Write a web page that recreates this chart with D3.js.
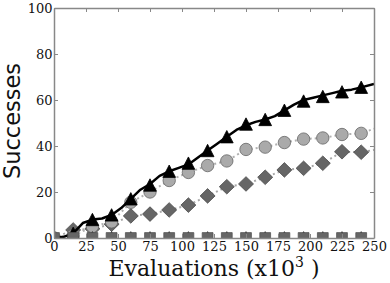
<!DOCTYPE html>
<html>
<head>
<meta charset="utf-8">
<script src="https://cdn.jsdelivr.net/npm/d3@7"></script>
<style>
  body { margin: 0; background: #fff; }
  svg { display: block; }
</style>
</head>
<body>
<div id="chart"></div>
<script>
// evaluations (x10^3) where markers sit
const markerX = [0, 15, 30, 45, 60, 75, 90, 105, 120, 135, 150, 165, 180, 195, 210, 225, 240];

// black solid line (denser sampling of the curve)
const bestLineX = [0, 7.5, 15, 22.5, 30, 37.5, 45, 52.5, 60, 67.5, 75, 82.5, 90, 97.5, 105, 112.5, 120,
  127.5, 135, 142.5, 150, 157.5, 165, 172.5, 180, 187.5, 195, 202.5, 210, 217.5, 225, 232.5, 240, 250];
const bestLine = [0, 0.5, 2, 6.5, 8, 8.5, 10, 13, 17, 21, 23.5, 27, 29, 30.5, 32, 35, 38,
  41, 44, 47, 49, 50.5, 51.5, 53, 55.5, 58, 60, 61, 62, 63, 64, 64.5, 65.5, 67];

const triangleMarks = [0, 2, 8, 10, 17, 23, 29, 32.5, 38, 44, 49.5, 51.5, 55.5, 59.5, 61.5, 63.5, 65.5];
const circleMarks = [0, 1, 5, 7, 15.5, 20, 25, 28.5, 31.5, 33.5, 38.5, 39.5, 41.5, 43, 43.5, 45, 45.5];
const diamondMarks = [0, 3.5, 4, 6, 9.6, 10.4, 12.2, 14.3, 18.3, 22.3, 23.5, 26.4, 29.6, 30.3, 32.5, 37.5, 37.3];
const zeroMarks = [0, 0, 0, 0, 0, 0, 0, 0, 0, 0, 0, 0, 0, 0, 0, 0, 0];

// dotted lines run on to the right edge
const dottedX = [0, 15, 30, 45, 60, 75, 90, 105, 120, 135, 150, 165, 180, 195, 210, 225, 240, 250];
const circleLine = [0, 1, 5, 7, 15.5, 20, 25, 28.5, 31.5, 33.5, 38.5, 39.5, 41.5, 43, 43.5, 45, 45.5, 47.5];
const diamondLine = [0, 3.5, 4, 6, 9.6, 10.4, 12.2, 14.3, 18.3, 22.3, 23.5, 26.4, 29.6, 30.3, 32.5, 37.5, 37.3, 38.3];

const xTicks = [0, 25, 50, 75, 100, 125, 150, 175, 200, 225, 250];
const yTicks = [0, 20, 40, 60, 80, 100];

const W = 390, H = 283;
const margin = { top: 8, right: 16, bottom: 45, left: 54 };
const width = W - margin.left - margin.right;
const height = H - margin.top - margin.bottom;

const svg = d3.select('#chart').append('svg')
    .attr('width', W)
    .attr('height', H);

const g = svg.append('g')
    .attr('transform', `translate(${margin.left},${margin.top})`);

const x = d3.scaleLinear().domain([0, 250]).range([0, width]);
const y = d3.scaleLinear().domain([0, 100]).range([height, 0]);

g.append('clipPath').attr('id', 'plot-clip')
    .append('rect')
    .attr('width', width)
    .attr('height', height);

const plot = g.append('g').attr('clip-path', 'url(#plot-clip)');

const pts = (xs, ys) => xs.map((v, i) => [v, ys[i]]);
const line = d3.line().x(d => x(d[0])).y(d => y(d[1]));

// marker shapes
const triangle = 'M0,-6.3L6.4,6.1L-6.4,6.1Z';
const diamond = 'M0,-7.3L7.5,0L0,7.3L-7.5,0Z';
const square = 'M-5.4,-5.4H5.4V5.4H-5.4Z';

function markers(data, shape, fill, stroke) {
    plot.append('g')
        .selectAll('path')
        .data(data)
        .enter()
        .append('path')
        .attr('transform', d => `translate(${x(d[0])},${y(d[1])})`)
        .attr('d', shape)
        .attr('fill', fill)
        .attr('stroke', stroke)
        .attr('stroke-width', 0.8);
}

// diamonds series
plot.append('path')
    .datum(pts(dottedX, diamondLine))
    .attr('d', line)
    .attr('fill', 'none')
    .attr('stroke', '#a8a8a8')
    .attr('stroke-width', 2)
    .attr('stroke-dasharray', '2,3');
markers(pts(markerX, diamondMarks), diamond, '#666', '#4a4a4a');

// circles series
plot.append('path')
    .datum(pts(dottedX, circleLine))
    .attr('d', line)
    .attr('fill', 'none')
    .attr('stroke', '#b0b0b0')
    .attr('stroke-width', 2)
    .attr('stroke-dasharray', '2,3');
plot.append('g')
    .selectAll('circle')
    .data(pts(markerX, circleMarks))
    .enter()
    .append('circle')
    .attr('cx', d => x(d[0]))
    .attr('cy', d => y(d[1]))
    .attr('r', 6.2)
    .attr('fill', '#aaa')
    .attr('stroke', '#666')
    .attr('stroke-width', 0.8);

// triangles series
plot.append('path')
    .datum(pts(bestLineX, bestLine))
    .attr('d', line)
    .attr('fill', 'none')
    .attr('stroke', '#000')
    .attr('stroke-width', 2.5)
    .attr('stroke-linejoin', 'round');
markers(pts(markerX, triangleMarks), triangle, '#000', '#000');

// zero series (triangles hidden under squares)
markers(pts(markerX, zeroMarks), triangle, '#000', '#000');
markers(pts(markerX, zeroMarks), square, '#666', '#555');

// axes: inward ticks on all four sides
const tickFont = '"DejaVu Serif", serif';

const xAxis = g.append('g')
    .attr('transform', `translate(0,${height})`)
    .call(d3.axisBottom(x).tickValues(xTicks).tickSizeInner(-4).tickSizeOuter(0).tickPadding(4));
const yAxis = g.append('g')
    .call(d3.axisLeft(y).tickValues(yTicks).tickSizeInner(-4).tickSizeOuter(0).tickPadding(1.5));
const topAxis = g.append('g')
    .call(d3.axisTop(x).tickValues(xTicks).tickSizeInner(-4).tickSizeOuter(0).tickFormat(''));
const rightAxis = g.append('g')
    .attr('transform', `translate(${width},0)`)
    .call(d3.axisRight(y).tickValues(yTicks).tickSizeInner(-4).tickSizeOuter(0).tickFormat(''));

[xAxis, yAxis, topAxis, rightAxis].forEach(a => {
    a.select('.domain').attr('stroke', '#888').attr('stroke-width', 1.5);
    a.selectAll('.tick line').attr('stroke', '#888');
    a.selectAll('text')
        .attr('fill', '#111')
        .style('font-family', tickFont)
        .style('font-size', '13px');
});

// axis titles
svg.append('text')
    .attr('transform', `translate(20,${margin.top + height / 2 - 2}) rotate(-90)`)
    .attr('text-anchor', 'middle')
    .style('font-family', '"DejaVu Sans", sans-serif')
    .style('font-size', '22.5px')
    .attr('fill', '#111')
    .text('Successes');

const xTitle = svg.append('text')
    .attr('x', margin.left + width / 2)
    .attr('y', 276)
    .attr('text-anchor', 'middle')
    .style('font-family', tickFont)
    .style('font-size', '22px')
    .attr('fill', '#111');
xTitle.append('tspan').text('Evaluations (x10');
xTitle.append('tspan').attr('dy', -9).style('font-size', '14px').text('3');
xTitle.append('tspan').attr('dy', 9).text('\u00a0)');
</script>
</body>
</html>
